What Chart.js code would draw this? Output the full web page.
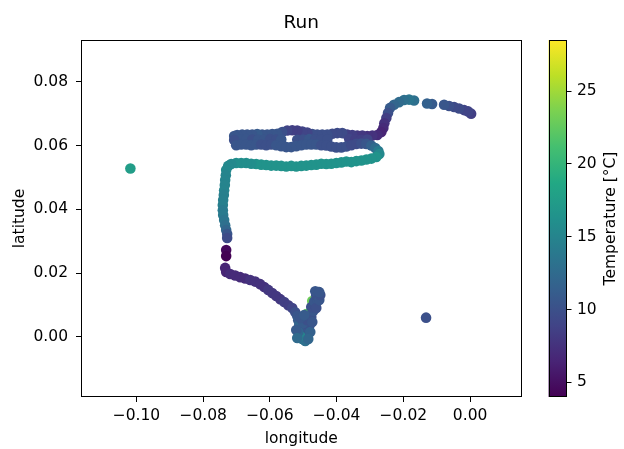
<!DOCTYPE html>
<html>
<head>
<meta charset="utf-8">
<title>Run</title>
<script src="https://cdn.jsdelivr.net/npm/chart.js@4.4.1/dist/chart.umd.min.js"></script>
<style>
    html, body { margin: 0; padding: 0; background: #fff; }
    #wrap { position: relative; width: 624px; height: 449px; }
    #wrap canvas { position: absolute; left: 0; top: 0; }
</style>
</head>
<body>
<div id="wrap">
    <canvas id="mainChart" width="624" height="449"></canvas>
    <canvas id="barChart" width="624" height="449"></canvas>
</div>
<script>
// 轨迹数据：经度
const longitude = [
    -0.0491,
    0.0003, -0.0006, -0.0018, -0.0033, -0.0048, -0.0063, -0.0078, -0.0114, -0.0129, -0.0168,
    -0.0183, -0.0198, -0.0213, -0.0228, -0.0240, -0.0246, -0.0251, -0.0257, -0.0260, -0.0266, -0.0278,
    -0.0293, -0.0308, -0.0323, -0.0338, -0.0353, -0.0368, -0.0383, -0.0398, -0.0413, -0.0428,
    -0.0443, -0.0458, -0.0473, -0.0488, -0.0503, -0.0518, -0.0533, -0.0548, -0.0563, -0.0578,
    -0.0593, -0.0608, -0.0623, -0.0638, -0.0653, -0.0668, -0.0683, -0.0698, -0.0707,
    -0.0689, -0.0671, -0.0653, -0.0635, -0.0617, -0.0599, -0.0581, -0.0566, -0.0518, -0.0500,
    -0.0482, -0.0464, -0.0446, -0.0428, -0.0362, -0.0344, -0.0326, -0.0308,
    -0.0707, -0.0701, -0.0686, -0.0671, -0.0656, -0.0641, -0.0626, -0.0611, -0.0596, -0.0581,
    -0.0566, -0.0551, -0.0536, -0.0521, -0.0506, -0.0491, -0.0476, -0.0461, -0.0446, -0.0431,
    -0.0416, -0.0401, -0.0386, -0.0371, -0.0356, -0.0341, -0.0326, -0.0311, -0.0296, -0.0284, -0.0275,
    -0.0272, -0.0281, -0.0296, -0.0311, -0.0326, -0.0341, -0.0356, -0.0371, -0.0386, -0.0401,
    -0.0416, -0.0431, -0.0446, -0.0461, -0.0476, -0.0491, -0.0506, -0.0521, -0.0536, -0.0551,
    -0.0566, -0.0581, -0.0596, -0.0611, -0.0626, -0.0641, -0.0656, -0.0671, -0.0686, -0.0701,
    -0.0716, -0.0725,
    -0.0731, -0.0732, -0.0734, -0.0735, -0.0737, -0.0738, -0.0740, -0.0741, -0.0741, -0.0740,
    -0.0737, -0.0734, -0.0731, -0.0728, -0.0728,
    -0.0731, -0.0731,
    -0.0734, -0.0731, -0.0719, -0.0704, -0.0689, -0.0674, -0.0659, -0.0644, -0.0629, -0.0617,
    -0.0605, -0.0593, -0.0581, -0.0569, -0.0557, -0.0545, -0.0533, -0.0524, -0.0518, -0.0515,
    -0.0512, -0.0509, -0.0506, -0.0503,
    -0.0491, -0.0473,
    -0.0494, -0.0497, -0.0488, -0.0494, -0.0482, -0.0500, -0.0488, -0.0476, -0.0470, -0.0476,
    -0.0464, -0.0467, -0.0458, -0.0461, -0.0455, -0.0464, -0.0509, -0.0515,
    -0.0521, -0.0479, -0.0518, -0.0485, -0.0473, -0.0509, -0.0497, -0.0461, -0.0452, -0.0449, -0.0452,
    -0.1018, -0.0132
];

// 轨迹数据：纬度
const latitude = [
    0.0046,
    0.0700, 0.0707, 0.0711, 0.0716, 0.0721, 0.0724, 0.0728, 0.0730, 0.0732, 0.0741,
    0.0744, 0.0743, 0.0736, 0.0728, 0.0718, 0.0702, 0.0686, 0.0670, 0.0655, 0.0642, 0.0633,
    0.0631, 0.0630, 0.0631, 0.0631, 0.0633, 0.0634, 0.0639, 0.0639, 0.0637, 0.0634,
    0.0634, 0.0634, 0.0636, 0.0641, 0.0644, 0.0647, 0.0648, 0.0647, 0.0642, 0.0637,
    0.0636, 0.0634, 0.0634, 0.0636, 0.0634, 0.0634, 0.0634, 0.0633, 0.0630,
    0.0619, 0.0620, 0.0619, 0.0618, 0.0619, 0.0620, 0.0619, 0.0619, 0.0618, 0.0619,
    0.0620, 0.0619, 0.0618, 0.0619, 0.0620, 0.0619, 0.0618, 0.0619,
    0.0617, 0.0601, 0.0603, 0.0603, 0.0601, 0.0603, 0.0603, 0.0601, 0.0603, 0.0601,
    0.0598, 0.0595, 0.0595, 0.0598, 0.0601, 0.0603, 0.0603, 0.0603, 0.0601, 0.0600,
    0.0597, 0.0594, 0.0594, 0.0597, 0.0601, 0.0605, 0.0606, 0.0605, 0.0600, 0.0592, 0.0583,
    0.0573, 0.0564, 0.0559, 0.0556, 0.0553, 0.0551, 0.0548, 0.0550, 0.0547, 0.0545,
    0.0543, 0.0542, 0.0543, 0.0540, 0.0539, 0.0537, 0.0536, 0.0534, 0.0536, 0.0534,
    0.0536, 0.0537, 0.0537, 0.0539, 0.0540, 0.0542, 0.0543, 0.0545, 0.0545, 0.0545,
    0.0542, 0.0536,
    0.0523, 0.0507, 0.0492, 0.0476, 0.0460, 0.0445, 0.0429, 0.0413, 0.0397, 0.0382,
    0.0366, 0.0350, 0.0335, 0.0322, 0.0310,
    0.0272, 0.0253,
    0.0216, 0.0203, 0.0197, 0.0192, 0.0187, 0.0183, 0.0178, 0.0173, 0.0165, 0.0156,
    0.0147, 0.0137, 0.0128, 0.0118, 0.0109, 0.0099, 0.0090, 0.0077, 0.0065, 0.0052,
    0.0037, 0.0021, 0.0008, -0.0007,
    0.0071, 0.0112,
    -0.0013, 0.0002, 0.0012, 0.0027, 0.0034, 0.0043, 0.0052, 0.0062, 0.0081, 0.0093,
    0.0098, 0.0111, 0.0117, 0.0130, 0.0140, 0.0143, 0.0002, 0.0015,
    0.0021, 0.0015, -0.0004, -0.0007, 0.0046, 0.0059, 0.0068, 0.0090, 0.0115, 0.0131, 0.0140,
    0.0528, 0.0060
];

// 温度 (°C)
const temperature = [
    28.5,
    8.5, 9, 9, 9.5, 9.5, 10, 10.5, 11, 11.5, 13,
    13.5, 13, 12.5, 12, 11, 10, 8.5, 7.5, 7, 6.5, 7,
    7.5, 7.5, 8, 8, 8.5, 8.5, 9.5, 9.5, 9.5, 10,
    10, 10, 10, 9, 9, 8.5, 8.5, 9, 10, 10.5,
    10.5, 10.5, 10.5, 11, 10.5, 10.5, 10.5, 10.5, 10.5,
    10.5, 10.5, 10, 10.5, 10.5, 10, 10, 10.5, 10, 10,
    10.5, 10, 10, 10, 9, 8.5, 8.5, 9,
    10, 10.5, 10.5, 10.5, 10.5, 10.5, 10, 10, 10, 10.5,
    10.5, 10.5, 10.5, 10.5, 10.5, 10.5, 10.5, 10.5, 10, 10,
    10, 10, 10, 10, 9.5, 9.5, 10, 10.5, 11.5, 12.5, 14,
    15.5, 16.5, 16.5, 16.5, 16.5, 16.5, 16.5, 16.5, 16.5, 16.5,
    16.5, 16.5, 16.5, 16.5, 16.5, 16.5, 16.5, 16.5, 16.5, 16.5,
    16.5, 16.5, 16.5, 16.5, 16.5, 16.5, 16, 16, 16, 16,
    15.5, 15.5,
    15.5, 15, 15, 15, 15, 14.5, 14.5, 14.5, 14, 14,
    13.5, 13, 12, 10.5, 9.5,
    4.5, 4.0,
    6.5, 6.5, 7, 7, 7, 7, 7.5, 7.5, 7.5, 7.5,
    8, 8, 8, 8, 8.5, 8.5, 9, 10, 10.5, 11,
    12, 13, 13.5, 14,
    22, 23,
    13, 12, 11, 10.5, 10, 11, 10, 10, 10.5, 10,
    10, 10.5, 10.5, 10, 11, 10.5, 15, 12,
    11, 11.5, 12.5, 12, 10.5, 10.5, 11, 10, 10.5, 10, 10.5,
    17.5, 10
];

// 刻度
const xTicks = [-0.10, -0.08, -0.06, -0.04, -0.02, 0.00];
const yTicks = [0.00, 0.02, 0.04, 0.06, 0.08];
const cbTicks = [5, 10, 15, 20, 25];

// 坐标范围
const xRange = [-0.1166, 0.0154];
const yRange = [-0.0189, 0.0931];
const tempRange = [Math.min(...temperature), Math.max(...temperature)];

// viridis 色表
const viridisStops = ['#440154', '#482475', '#414487', '#355f8d', '#2a788e', '#21918c',
    '#22a884', '#44bf70', '#7ad151', '#bddf26', '#fde725'];

Chart.defaults.font.family = '"DejaVu Sans", sans-serif';
Chart.defaults.font.size = 15.5;
Chart.defaults.color = '#000';

function hexToRgb(hex) {
    const n = parseInt(hex.slice(1), 16);
    return [(n >> 16) & 255, (n >> 8) & 255, n & 255];
}

// 温度对应的颜色
function tempColor(t) {
    let f = (t - tempRange[0]) / (tempRange[1] - tempRange[0]);
    f = Math.min(1, Math.max(0, f));
    const pos = f * (viridisStops.length - 1);
    const i = Math.min(Math.floor(pos), viridisStops.length - 2);
    const k = pos - i;
    const a = hexToRgb(viridisStops[i]);
    const b = hexToRgb(viridisStops[i + 1]);
    const c = a.map((v, j) => Math.round(v + (b[j] - v) * k));
    return `rgb(${c[0]}, ${c[1]}, ${c[2]})`;
}

function fmtTick(v) {
    return (v < 0 ? '\u2212' : '') + Math.abs(v).toFixed(2);
}

// 四周边框
const framePlugin = {
    id: 'frame',
    afterDraw(chart) {
        const { ctx, chartArea: a } = chart;
        const l = Math.round(a.left) + 0.5, r = Math.round(a.right) - 0.5;
        const t = Math.round(a.top) + 0.5, b = Math.round(a.bottom) - 0.5;
        ctx.save();
        ctx.strokeStyle = '#000';
        ctx.lineWidth = 1;
        ctx.strokeRect(l, t, r - l, b - t);
        ctx.restore();
    }
};

// 色条标题（从下往上）
const cbLabelPlugin = {
    id: 'cbLabel',
    afterDraw(chart) {
        const { ctx, chartArea: a } = chart;
        const s = chart.scales.y;
        ctx.save();
        ctx.translate(s.right - 13, (a.top + a.bottom) / 2);
        ctx.rotate(-Math.PI / 2);
        ctx.textAlign = 'center';
        ctx.textBaseline = 'middle';
        ctx.font = '15.5px "DejaVu Sans"';
        ctx.fillStyle = '#000';
        ctx.fillText('Temperature [°C]', 0, 0);
        ctx.restore();
    }
};

// 散点图
function initMainChart() {
    const points = longitude.map((lon, i) => ({ x: lon, y: latitude[i] }));
    new Chart(document.getElementById('mainChart'), {
        type: 'scatter',
        data: {
            datasets: [{
                data: points,
                pointRadius: 5.3,
                pointHoverRadius: 5.3,
                pointBorderWidth: 0,
                pointBackgroundColor: ctx => tempColor(temperature[ctx.dataIndex])
            }]
        },
        options: {
            responsive: false,
            animation: false,
            devicePixelRatio: 1,
            events: [],
            layout: { padding: { left: 0, right: 102.5, top: 0, bottom: 0 } },
            plugins: {
                legend: { display: false },
                tooltip: { enabled: false },
                title: {
                    display: true,
                    text: 'Run',
                    fullSize: false,
                    color: '#000',
                    font: { size: 18.5, weight: 'normal' },
                    padding: { top: 12.5, bottom: 5.3 }
                }
            },
            scales: {
                x: {
                    type: 'linear',
                    min: xRange[0],
                    max: xRange[1],
                    afterBuildTicks: s => { s.ticks = xTicks.map(v => ({ value: v })); },
                    afterFit: s => { s.height = 52; },
                    grid: { drawOnChartArea: false, tickLength: 5, color: '#000' },
                    border: { display: false },
                    ticks: { padding: 5, maxRotation: 0, autoSkip: false, callback: fmtTick },
                    title: { display: true, text: 'longitude', padding: { top: 0, bottom: 1 } }
                },
                y: {
                    type: 'linear',
                    min: yRange[0],
                    max: yRange[1],
                    afterBuildTicks: s => { s.ticks = yTicks.map(v => ({ value: v })); },
                    afterFit: s => { s.width = 81; },
                    grid: { drawOnChartArea: false, tickLength: 5, color: '#000' },
                    border: { display: false },
                    ticks: { padding: 8, autoSkip: false, callback: fmtTick },
                    title: { display: true, text: 'latitude', padding: { top: 10.3, bottom: 0 } }
                }
            }
        },
        plugins: [framePlugin]
    });
}

// 色条渐变
function barGradient(chart) {
    const s = chart.scales.y;
    const y0 = s ? s.getPixelForValue(tempRange[0]) : NaN;
    const y1 = s ? s.getPixelForValue(tempRange[1]) : NaN;
    if (!isFinite(y0) || !isFinite(y1)) return viridisStops[5];
    const g = chart.ctx.createLinearGradient(0, y0, 0, y1);
    viridisStops.forEach((c, i) => g.addColorStop(i / (viridisStops.length - 1), c));
    return g;
}

// 色条
function initColorBar() {
    new Chart(document.getElementById('barChart'), {
        type: 'bar',
        data: {
            labels: [''],
            datasets: [{
                data: [tempRange],
                borderWidth: 0,
                barPercentage: 1,
                categoryPercentage: 1,
                backgroundColor: ctx => barGradient(ctx.chart)
            }]
        },
        options: {
            responsive: false,
            animation: false,
            devicePixelRatio: 1,
            events: [],
            layout: { padding: { left: 548.5, right: 0, top: 40, bottom: 52 } },
            plugins: {
                legend: { display: false },
                tooltip: { enabled: false }
            },
            scales: {
                x: { display: false },
                y: {
                    position: 'right',
                    min: tempRange[0],
                    max: tempRange[1],
                    afterBuildTicks: s => { s.ticks = cbTicks.map(v => ({ value: v })); },
                    afterFit: s => { s.width = 57.5; },
                    grid: { drawOnChartArea: false, tickLength: 5, color: '#000' },
                    border: { display: false },
                    ticks: { padding: 5.5, autoSkip: false }
                }
            }
        },
        plugins: [framePlugin, cbLabelPlugin]
    });
}

document.addEventListener('DOMContentLoaded', function() {
    initMainChart();
    initColorBar();
});
</script>
</body>
</html>
